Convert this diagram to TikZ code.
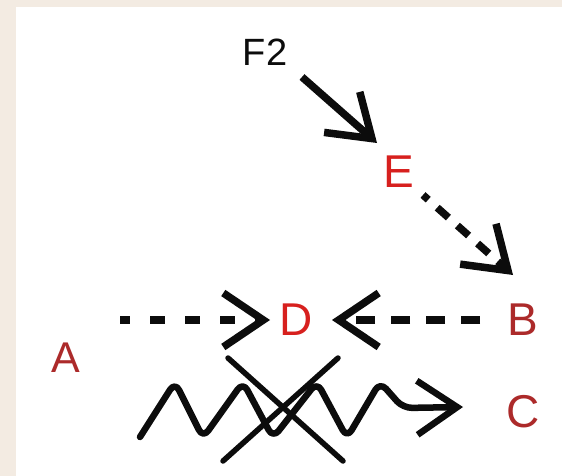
\documentclass[tikz,border=0pt]{standalone}
\usepackage{fontspec}
\setmainfont{Liberation Sans}
\usetikzlibrary{arrows.meta,calc}
\definecolor{bgbeige}{RGB}{243,235,226}
\definecolor{brightred}{RGB}{215,32,30}
\definecolor{dullred}{RGB}{172,42,42}
\definecolor{inkblack}{RGB}{12,12,12}
\begin{document}
\begin{tikzpicture}[x=1pt,y=-1pt,
  lbl/.style={anchor=base, inner sep=0pt, font=\fontsize{46}{46}\selectfont},
  barb/.style={-{Straight Barb[length=40pt,width=54pt]}, line width=7.5pt, draw=inkblack},
  dasharrow/.style={barb, dash pattern=on 15pt off 20pt},
  crossline/.style={line width=5.5pt, draw=inkblack, line cap=round},
  wave/.style={barb, line width=6.5pt, line join=round, line cap=round, rounded corners=9pt},
]
\useasboundingbox (0,0) rectangle (562,476);
\fill[bgbeige] (0,0) rectangle (562,476);
\fill[white] (16,7) rectangle (562,476);

% labels
\node[lbl, text=inkblack, font=\fontsize{38}{38}\selectfont] (F2) at (265,66) {F2};
\node[lbl, text=brightred] (E) at (399,187) {E};
\node[lbl, text=brightred] (D) at (296,335) {D};
\node[lbl, text=dullred] (B) at (523,335) {B};
\node[lbl, text=dullred, font=\fontsize{43}{43}\selectfont] (A) at (66,372) {A};
\node[lbl, text=dullred] (C) at (523,427) {C};

% connectors
\draw[barb] ($(F2.base)+(37,11)$) -- ($(E.base)+(-22,-44)$);
\draw[dasharrow, dash pattern=on 15pt off 12pt, dash phase=8pt] ($(E.base)+(24,8)$) -- ($(B.base)+(-10,-60)$);
\draw[dasharrow, dash phase=5pt] ($(A.base)+(54,-52)$) -- ($(D.base)+(-26,-15)$);
\draw[dasharrow, dash pattern=on 19pt off 16pt, dash phase=0pt] ($(B.base)+(-43,-15)$) -- ($(D.base)+(36,-15)$);

% wavy arrow to C
\coordinate (w0) at (140,437);
\draw[wave] (w0) -- (175,382) -- (203,438) -- (243,382) -- (273,438)
  -- (317,382) -- (347,438) -- (380,382) -- (403,408) -- ($(C.base)+(-60,-20)$);

% crossing-out lines
\draw[crossline] (228,358) -- (343,461);
\draw[crossline] (338,358) -- (223,461);
\end{tikzpicture}
\end{document}
